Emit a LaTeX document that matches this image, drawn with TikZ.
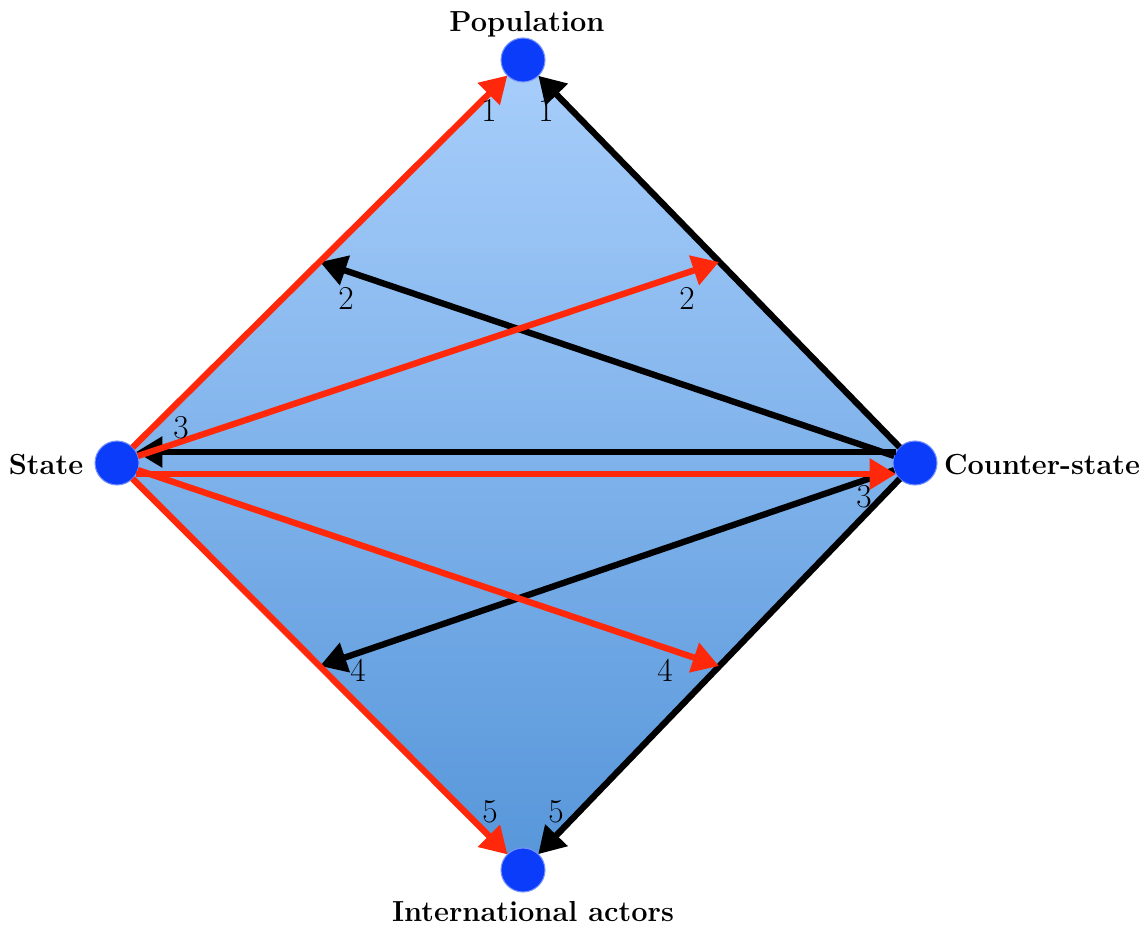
\documentclass[tikz,border=0pt]{standalone}
\usepackage{amsmath}
\usepackage{tikz}
\usetikzlibrary{arrows.meta}

\definecolor{dotblue}{RGB}{10,60,250}
\definecolor{toplight}{RGB}{168,206,251}
\definecolor{bottomdark}{RGB}{86,150,218}
\definecolor{arrowred}{RGB}{255,40,10}

\begin{document}
\begin{tikzpicture}[x=0.02cm, y=-0.02cm,
  actor/.style={circle, fill=dotblue, draw=dotblue!55!white, line width=0.6pt, minimum size=0.88cm, inner sep=0pt, outer sep=0pt},
  actorname/.style={font=\bfseries\fontsize{16.5}{19}\selectfont},
  num/.style={font=\fontsize{19}{22}\selectfont},
  redarrow/.style={-{Triangle[length=15pt, width=17pt]}, color=arrowred, line width=3.6pt},
  blackarrow/.style={-{Triangle[length=15pt, width=17pt]}, color=black, line width=3.6pt}]
\useasboundingbox (0,0) rectangle (1148,928);

% the four corners
\coordinate (p) at (523,60);
\coordinate (s) at (117,463);
\coordinate (c) at (915,463);
\coordinate (i) at (523,870);

\shade[top color=toplight, bottom color=bottomdark] (p) -- (c) -- (i) -- (s) -- cycle;

\node[actor] (pop) at (p) {};
\node[actor] (state) at (s) {};
\node[actor] (cs) at (c) {};
\node[actor] (ia) at (i) {};

\node[actorname] (popname) at (527,24) {Population};
\node[actorname] (statename) at (46,465) {State};
\node[actorname] (csname) at (1042,465) {Counter-state};
\node[actorname] (ianame) at (533,912) {International actors};

% edge midpoints
\coordinate (popstate) at (320,262);
\coordinate (popcs) at (719,262);
\coordinate (iastate) at (320,666);
\coordinate (iacs) at (719,666);

% counter-state moves
\draw[blackarrow] (cs) -- (pop);
\draw[blackarrow] (cs) -- (popstate);
\draw[blackarrow] (cs.150) -- (state.30);
\draw[blackarrow] (cs) -- (iastate);
\draw[blackarrow] (cs) -- (ia);

% state moves
\draw[redarrow] (state) -- (pop);
\draw[redarrow] (state) -- (popcs);
\draw[redarrow] (state.-30) -- (cs.210);
\draw[redarrow] (state) -- (iacs);
\draw[redarrow] (state) -- (ia);

\node[num] (r1) at (489,110) {1};
\node[num] (b1) at (546,110) {1};
\node[num] (b2) at (346,298) {2};
\node[num] (r2) at (687,298) {2};
\node[num] (b3) at (181,428) {3};
\node[num] (r3) at (864,497) {3};
\node[num] (b4) at (358,670) {4};
\node[num] (r4) at (665,670) {4};
\node[num] (r5) at (490,812) {5};
\node[num] (b5) at (556,812) {5};
\end{tikzpicture}
\end{document}
